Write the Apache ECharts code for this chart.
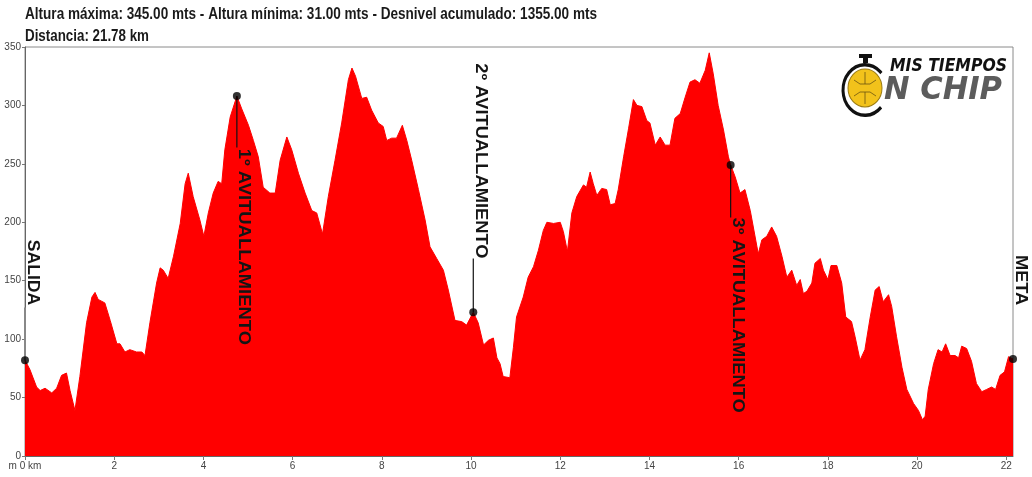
<!DOCTYPE html>
<html><head><meta charset="utf-8">
<script src="https://cdn.jsdelivr.net/npm/echarts@6/dist/echarts.min.js"></script>
<style>html,body{margin:0;padding:0;background:#fff}#c{width:1032px;height:477px}</style>
</head><body><div id="c"></div>
<script>
const titleLine1 = 'Altura máxima: 345.00 mts - Altura mínima: 31.00 mts - Desnivel acumulado: 1355.00 mts';
const titleLine2 = 'Distancia: 21.78 km';

const distKm = [0,0.11,0.26,0.34,0.45,0.60,0.71,0.82,0.93,1.01,1.12,1.23,1.38,1.50,1.57,1.64,1.79,1.91,2.06,2.13,2.24,2.35,2.50,2.62,2.69,2.80,2.95,3.03,3.10,3.21,3.33,3.48,3.59,3.66,3.77,3.92,4.01,4.11,4.22,4.33,4.41,4.48,4.60,4.75,4.86,5.01,5.12,5.23,5.34,5.49,5.61,5.72,5.87,5.98,6.13,6.28,6.43,6.54,6.67,6.80,6.95,7.10,7.25,7.33,7.41,7.55,7.66,7.77,7.92,8.03,8.11,8.22,8.33,8.46,8.56,8.67,8.82,8.97,9.08,9.23,9.38,9.49,9.64,9.79,9.90,10.05,10.16,10.28,10.39,10.50,10.58,10.65,10.72,10.87,10.95,11.02,11.17,11.28,11.40,11.51,11.62,11.70,11.85,12.00,12.07,12.16,12.26,12.37,12.52,12.59,12.67,12.74,12.82,12.93,13.04,13.12,13.23,13.30,13.42,13.53,13.64,13.72,13.83,13.94,14.01,14.13,14.24,14.35,14.46,14.57,14.69,14.80,14.91,15.02,15.13,15.25,15.34,15.43,15.54,15.66,15.77,15.82,15.92,16.03,16.14,16.26,16.41,16.44,16.52,16.63,16.74,16.85,16.97,17.08,17.19,17.30,17.38,17.45,17.53,17.64,17.71,17.83,17.90,18.00,18.07,18.20,18.31,18.40,18.53,18.61,18.72,18.83,18.95,19.06,19.15,19.24,19.36,19.43,19.54,19.66,19.77,19.92,20.03,20.12,20.18,20.25,20.37,20.47,20.56,20.64,20.74,20.85,20.93,21.00,21.11,21.22,21.33,21.45,21.56,21.67,21.76,21.86,21.96,22.05,22.15];
const altM = [82,74,59,56,58,54,58,69,71,56,39,68,114,136,140,134,131,116,96,96,89,91,89,89,86,114,148,161,159,152,171,199,233,242,222,202,188,208,225,235,233,262,290,308,297,283,270,256,230,225,225,253,273,262,242,225,210,208,190,222,253,285,322,332,325,306,307,296,285,282,270,272,272,283,270,253,228,202,179,169,159,142,116,115,112,123,114,95,99,101,84,79,68,67,93,119,136,153,162,176,193,200,199,200,192,175,208,222,232,230,243,233,223,229,228,215,216,228,256,280,305,300,299,287,285,266,273,266,266,289,293,307,320,322,319,330,345,327,300,279,256,249,239,225,228,210,179,173,185,188,196,188,171,153,159,146,151,139,141,148,165,169,159,151,163,163,148,119,115,102,82,91,119,142,145,132,138,128,102,76,57,45,39,31,34,57,79,91,89,96,86,86,84,94,92,81,62,55,57,59,57,69,72,85,83];

const markerKm = [0, 4.75, 10.05, 15.82, 22.15];
const markerAlt = [82, 308, 123, 249, 83];
const markerLabel = ['SALIDA', '1º AVITUALLAMIENTO', '2º AVITUALLAMIENTO', '3º AVITUALLAMIENTO', 'META'];
const leaderEndAlt = [127, 264, 169, 204, 83];
const labelFromAlt = [185, 263, 336, 204, 172];
const labelToAlt = [129, 95, 169, 37, 129];

const xTickStep = 2;
const yTickStep = 50;
const xMaxKm = 22.15;
const yMaxM = 350;

const LABEL_FONT = 'bold 16px "Liberation Sans"';
const TITLE_FONT = 'bold 16px "Liberation Sans"';
const mctx = document.createElement('canvas').getContext('2d');
function textW(font, s) { mctx.font = font; return mctx.measureText(s).width; }

const logoFont1 = 'italic bold 17px "DejaVu Sans"';
const logoFont2 = 'italic bold 32px "DejaVu Sans"';

const chart = echarts.init(document.getElementById('c'), null, {renderer: 'canvas'});
const profile = distKm.map((d, i) => [d, altM[i]]);
const markers = markerKm.map((k, i) => [k, markerAlt[i]]);

chart.setOption({
  animation: false,
  backgroundColor: '#ffffff',
  grid: {left: 25, right: 19, top: 47, bottom: 21, show: true, borderColor: '#8a8a8a', borderWidth: 1, backgroundColor: 'transparent', outerBoundsMode: 'none'},
  xAxis: {
    type: 'value', min: 0, max: xMaxKm, interval: xTickStep,
    axisLine: {show: true, lineStyle: {color: '#666', width: 1}},
    axisTick: {show: true, length: 4, lineStyle: {color: '#777'}},
    splitLine: {show: false},
    axisLabel: {
      color: '#444', fontSize: 10, fontFamily: 'Liberation Sans', margin: 5,
      showMaxLabel: false,
      formatter: v => v === 0 ? 'm 0 km' : (Math.abs(v % xTickStep) < 1e-9 ? String(v) : '')
    }
  },
  yAxis: {
    type: 'value', min: 0, max: yMaxM, interval: yTickStep,
    axisLine: {show: true, lineStyle: {color: '#666', width: 1}},
    axisTick: {show: true, length: 3, lineStyle: {color: '#777'}},
    splitLine: {show: false},
    axisLabel: {color: '#444', fontSize: 10, fontFamily: 'Liberation Sans', margin: 4}
  },
  graphic: [
    {type: 'text', x: 25, y: 15, scaleX: 572 / textW(TITLE_FONT, titleLine1),
     style: {text: titleLine1, font: TITLE_FONT, fill: '#1a1a1a', verticalAlign: 'middle'}},
    {type: 'text', x: 25, y: 37, scaleX: 124 / textW(TITLE_FONT, titleLine2),
     style: {text: titleLine2, font: TITLE_FONT, fill: '#1a1a1a', verticalAlign: 'middle'}},
    // logo
    {type: 'arc', x: 865, y: 90, scaleY: 1.15,
     shape: {cx: 0, cy: 0, r: 22, startAngle: 0.75, endAngle: 5.55, clockwise: true},
     style: {stroke: '#111', lineWidth: 3, fill: null}},
    {type: 'rect', shape: {x: 859, y: 54, width: 13, height: 4}, style: {fill: '#111'}},
    {type: 'rect', shape: {x: 863, y: 57, width: 5, height: 6}, style: {fill: '#111'}},
    {type: 'circle', x: 865, y: 88, scaleY: 1.12, shape: {cx: 0, cy: 0, r: 17},
     style: {fill: '#f2c21b', stroke: '#9a7a10', lineWidth: 1}},
    {type: 'polyline', shape: {points: [[854, 80], [860, 84], [870, 84], [876, 80]]}, style: {stroke: '#6b5410', lineWidth: 0.8, fill: null}},
    {type: 'polyline', shape: {points: [[854, 96], [860, 92], [870, 92], [876, 96]]}, style: {stroke: '#6b5410', lineWidth: 0.8, fill: null}},
    {type: 'polyline', shape: {points: [[865, 72], [865, 84]]}, style: {stroke: '#6b5410', lineWidth: 0.8}},
    {type: 'polyline', shape: {points: [[865, 92], [865, 104]]}, style: {stroke: '#6b5410', lineWidth: 0.8}},
    {type: 'text', x: 890, y: 67, scaleX: 117 / textW(logoFont1, 'MIS TIEMPOS'),
     style: {text: 'MIS TIEMPOS', font: logoFont1, fill: '#111', verticalAlign: 'middle'}},
    {type: 'text', x: 884, y: 91, scaleX: 118 / textW(logoFont2, 'N CHIP'),
     style: {text: 'N CHIP', font: logoFont2, fill: '#5c5c5c', verticalAlign: 'middle'}}
  ],
  series: [
    {
      type: 'line', data: profile, symbol: 'none', z: 2,
      lineStyle: {color: '#ff0000', width: 1},
      areaStyle: {color: '#ff0000', opacity: 1}
    },
    {
      type: 'custom', data: markers, z: 3, clip: false,
      renderItem: function (params, api) {
        const i = params.dataIndex;
        const p = api.coord([markerKm[i], markerAlt[i]]);
        const q = api.coord([markerKm[i], leaderEndAlt[i]]);
        const a = api.coord([markerKm[i], labelFromAlt[i]]);
        const b = api.coord([markerKm[i], labelToAlt[i]]);
        const len = Math.abs(b[1] - a[1]);
        const sx = len / textW(LABEL_FONT, markerLabel[i]);
        const grey = (i === 0 || i === markerKm.length - 1);
        return {
          type: 'group',
          children: [
            {type: 'line', shape: {x1: p[0], y1: p[1], x2: q[0], y2: q[1]},
             style: {stroke: grey ? '#888' : '#111', lineWidth: grey ? 2 : 1.2}},
            {type: 'text', x: p[0] + 7, y: (a[1] + b[1]) / 2, rotation: -Math.PI / 2, scaleX: sx,
             style: {text: markerLabel[i], font: LABEL_FONT, fill: '#151515', align: 'center', verticalAlign: 'middle'}}
          ]
        };
      }
    },
    {
      type: 'scatter', data: markers, z: 4, symbolSize: 8,
      itemStyle: {color: '#000'}
    }
  ]
});
</script>
</body></html>
